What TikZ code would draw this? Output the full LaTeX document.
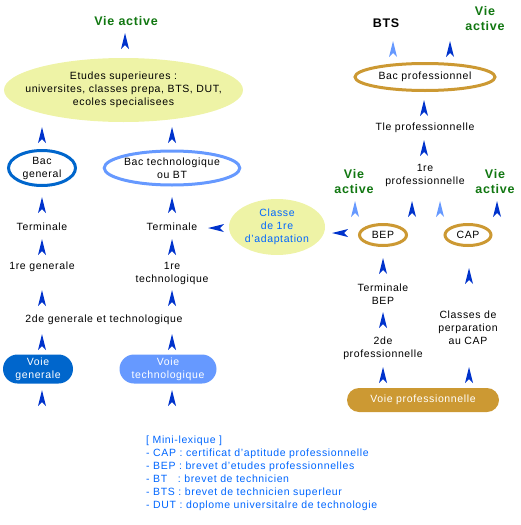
\documentclass[tikz,border=0pt]{standalone}
\usepackage{fontspec}
\setmainfont[LetterSpace=6]{Liberation Sans}
\usetikzlibrary{shapes.geometric,shapes.misc}
\definecolor{jaune}{HTML}{EEF3A6}
\definecolor{bleufonce}{HTML}{0066CC}
\definecolor{bleuclair}{HTML}{6699FF}
\definecolor{dore}{HTML}{CC9933}
\definecolor{fleche}{HTML}{0033CC}
\definecolor{vert}{HTML}{117711}
\definecolor{lexbleu}{HTML}{0066FF}
\tikzset{
	txt/.style={align=center,inner sep=0pt,font=\fontsize{10.5}{13}\selectfont},
	vie/.style={align=center,inner sep=0pt,text=vert,font=\fontsize{12.5}{15}\selectfont\bfseries},
	anneau/.style={ellipse,draw=#1,line width=3pt,inner sep=0pt,align=center,font=\fontsize{10.5}{13}\selectfont},
	voie/.style={rounded rectangle,fill=#1,text=white,inner sep=0pt,align=center,font=\fontsize{10.5}{13}\selectfont},
	upmark/.pic={\fill[pic actions] (0,-8)--(4,8)--(0,4)--(-4,8)--cycle;}
}
\begin{document}
\begin{tikzpicture}[x=1pt,y=-1pt]
	\useasboundingbox (0,0) rectangle (520,525);
	%		voie generale et technologique
	\node[vie] (vie1) at (126,21) {Vie active};
	\fill[jaune] (123.5,90) ellipse [x radius=119.5, y radius=32];
	\node[txt] (etudes) at (123.5,90) {Etudes superieures :\\universites, classes prepa, BTS, DUT,\\ecoles specialisees};
	\node[anneau=bleufonce,minimum width=67pt,minimum height=35pt] (bacg) at (42,168) {Bac\\general};
	\node[anneau=bleuclair,minimum width=131pt,minimum height=34pt] (bact) at (172,168) {Bac technologique\\ou BT};
	\node[txt] (termg) at (42,227) {Terminale};
	\node[txt] (termt) at (172,227) {Terminale};
	\node[txt] (premg) at (42,267) {1re generale};
	\node[txt] (premt) at (172,273.5) {1re\\technologique};
	\node[txt] (sec) at (104,320) {2de generale et technologique};
	\node[voie=bleufonce,minimum width=70pt,minimum height=29pt] (voieg) at (38,369) {Voie\\generale};
	\node[voie=bleuclair,minimum width=97pt,minimum height=29pt] (voiet) at (168,369) {Voie\\technologique};
	\node[ellipse,fill=jaune,minimum width=96pt,minimum height=56pt,txt,text=lexbleu] (adapt) at (277,227) {Classe\\de 1re\\d'adaptation};
	
	%		voie professionnelle
	\node[txt,font=\fontsize{12.5}{15}\selectfont\bfseries] (bts) at (386,23) {BTS};
	\node[vie] (vie2) at (485,19) {Vie\\active};
	\node[anneau=dore,minimum width=140pt,minimum height=27pt] (bacp) at (425,77) {Bac professionnel};
	\node[txt] (tlep) at (425,128) {Tle professionnelle};
	\node[txt] (premp) at (425,175.5) {1re\\professionnelle};
	\node[vie] (vie3) at (354,182) {Vie\\active};
	\node[vie] (vie4) at (495,182) {Vie\\active};
	\node[anneau=dore,minimum width=47pt,minimum height=21pt] (bep) at (383,235) {BEP};
	\node[anneau=dore,minimum width=46pt,minimum height=21pt] (cap) at (468,235) {CAP};
	\node[txt] (termbep) at (383,294) {Terminale\\BEP};
	\node[txt] (secp) at (383,348) {2de\\professionnelle};
	\node[txt] (classcap) at (468,327.5) {Classes de\\perparation\\au CAP};
	\node[voie=dore,minimum width=152pt,minimum height=24pt] (voiep) at (423,400) {Voie professionnelle};
	
	%		fleches
	\foreach \x/\y in {125/41,42/135,172/135,42/205,172/205,42/247,172/247,42/298,172/298,42/342,172/342,42/398,172/398,
		450/49,424/108,424/148,412/209,497/209,383/266,383/320,383/375,469/276,469/375}
	\pic[fill=fleche] at (\x,\y) {upmark};
	\foreach \x/\y in {393/49,355/209,440/209}
	\pic[fill=bleuclair] at (\x,\y) {upmark};
	\pic[fill=fleche,rotate=90] at (216,228) {upmark};
	\pic[fill=fleche,rotate=90] at (340,233) {upmark};
	
	%		mini-lexique
	\node[anchor=north west,align=left,inner sep=0pt,text=lexbleu,font=\fontsize{10.5}{13}\selectfont] (lexique) at (146,436) {[ Mini-lexique ]\\- CAP : certificat d'aptitude professionnelle\\- BEP : brevet d'etudes professionnelles\\- BT \ \ : brevet de technicien\\- BTS : brevet de technicien superleur\\- DUT : doplome universitalre de technologie};
\end{tikzpicture}
\end{document}
